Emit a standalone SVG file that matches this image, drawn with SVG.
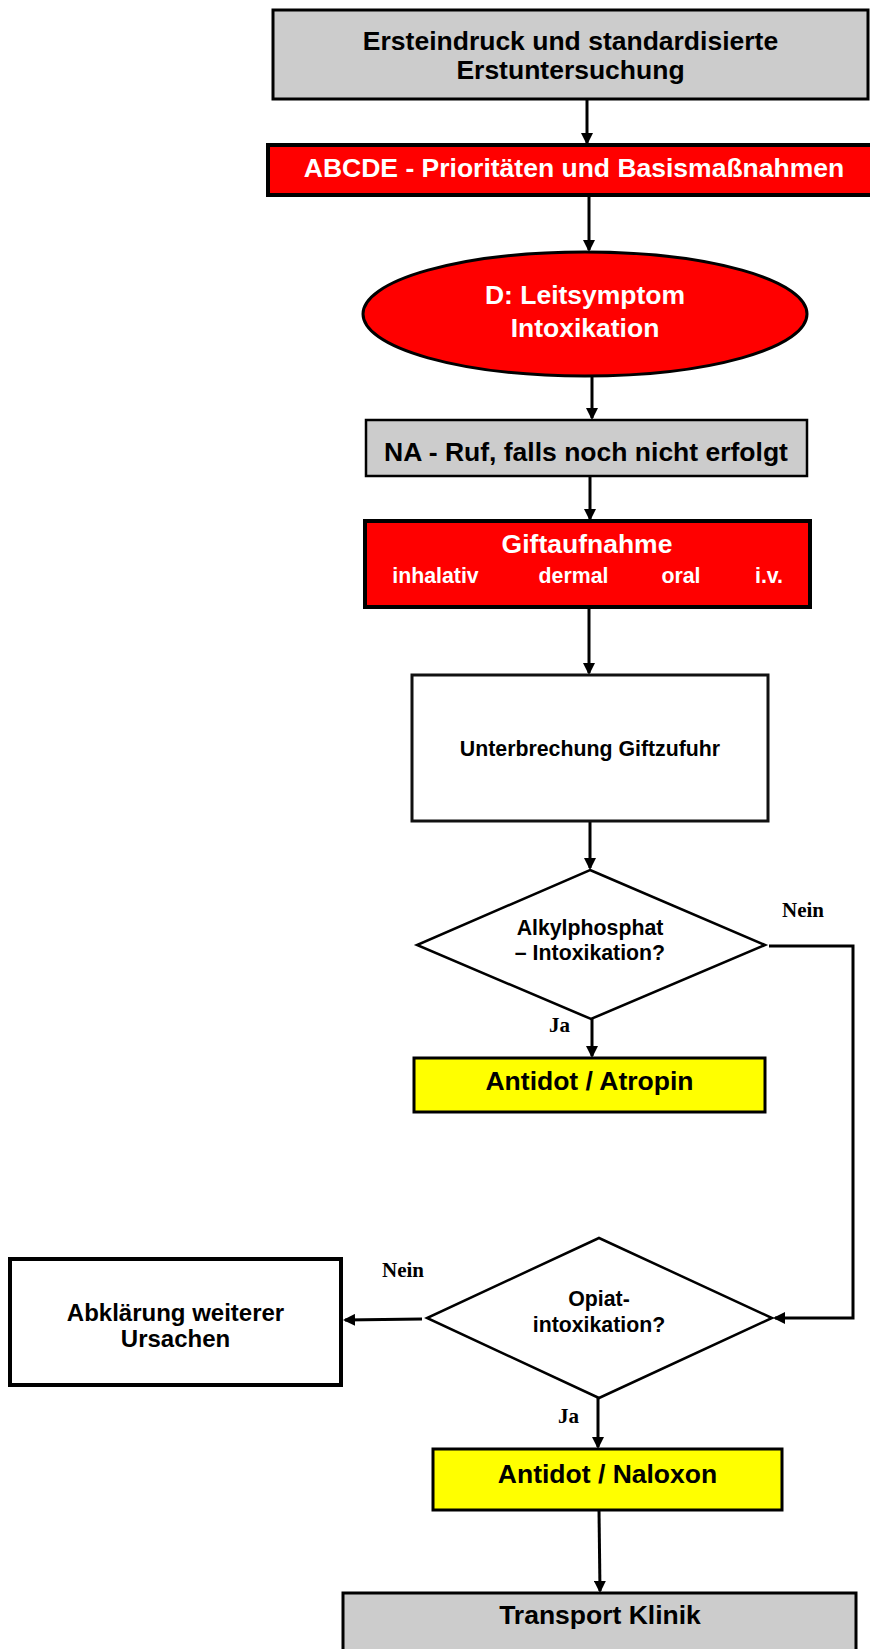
<svg xmlns="http://www.w3.org/2000/svg" width="870" height="1649" viewBox="0 0 870 1649">
  <style>
    .t { font-family: "Liberation Sans", Arial, sans-serif; font-weight: bold; text-anchor: middle; }
    .big { font-size: 26.5px; }
    .mid { font-size: 24px; }
    .small { font-size: 21.3px; }
    .dark { fill: #000000; }
    .light { fill: #ffffff; }
    .lbl { font-family: "Liberation Serif", "Times New Roman", serif; font-weight: bold; font-size: 21px; fill: #000000; }
    .gray { fill: #cccccc; stroke: #000000; stroke-width: 3; }
    .red { fill: #ff0000; stroke: #000000; stroke-width: 4; }
    .yellow { fill: #ffff00; stroke: #000000; stroke-width: 3; }
    .white { fill: #ffffff; stroke: #000000; stroke-width: 3; }
    .wire { fill: none; stroke: #000000; stroke-width: 3; }
  </style>
  <defs>
    <marker id="arrow" markerUnits="userSpaceOnUse" markerWidth="12" markerHeight="12" refX="10" refY="6" orient="auto">
      <path d="M0,0 L12,6 L0,12 z" fill="#000000"/>
    </marker>
  </defs>

  <rect x="0" y="0" width="870" height="1649" fill="#ffffff"/>

  <!-- connectors -->
  <g id="connectors">
    <line class="wire" x1="587" y1="100" x2="587" y2="143" marker-end="url(#arrow)"/>
    <line class="wire" x1="589" y1="195" x2="589" y2="250" marker-end="url(#arrow)"/>
    <line class="wire" x1="592" y1="376" x2="592" y2="418" marker-end="url(#arrow)"/>
    <line class="wire" x1="590" y1="476" x2="590" y2="519" marker-end="url(#arrow)"/>
    <line class="wire" x1="589" y1="607" x2="589" y2="673" marker-end="url(#arrow)"/>
    <line class="wire" x1="590" y1="821" x2="590" y2="868" marker-end="url(#arrow)"/>
    <line class="wire" x1="592" y1="1019" x2="592" y2="1056" marker-end="url(#arrow)"/>
    <polyline class="wire" points="769,946 853,946 853,1318 775,1318" marker-end="url(#arrow)"/>
    <line class="wire" x1="422" y1="1319" x2="345" y2="1320" marker-end="url(#arrow)"/>
    <line class="wire" x1="598" y1="1398" x2="598" y2="1447" marker-end="url(#arrow)"/>
    <line class="wire" x1="599" y1="1510" x2="600" y2="1591" marker-end="url(#arrow)"/>
    <text class="lbl" x="782" y="917">Nein</text>
    <text class="lbl" x="549" y="1032">Ja</text>
    <text class="lbl" x="382" y="1277">Nein</text>
    <text class="lbl" x="558" y="1423">Ja</text>
  </g>

  <!-- first impression -->
  <g id="erstuntersuchung">
    <rect class="gray" x="273" y="10" width="595" height="89"/>
    <text class="t big dark" x="570.5" y="50">Ersteindruck und standardisierte</text>
    <text class="t big dark" x="570.5" y="79">Erstuntersuchung</text>
  </g>

  <!-- ABCDE -->
  <g id="abcde">
    <rect class="red" x="268" y="145" width="620" height="50"/>
    <text class="t big light" x="574" y="177">ABCDE - Prioritäten und Basismaßnahmen</text>
  </g>

  <!-- leading symptom -->
  <g id="leitsymptom">
    <ellipse class="red" style="stroke-width:3" cx="585" cy="314" rx="222" ry="62"/>
    <text class="t big light" x="585" y="304">D: Leitsymptom</text>
    <text class="t big light" x="585" y="337">Intoxikation</text>
  </g>

  <!-- emergency physician call -->
  <g id="na-ruf">
    <rect class="gray" style="stroke-width:2.5" x="366" y="420" width="441" height="56"/>
    <text class="t big dark" x="586" y="461">NA - Ruf, falls noch nicht erfolgt</text>
  </g>

  <!-- route of intake -->
  <g id="giftaufnahme">
    <rect class="red" x="365" y="521" width="445" height="86"/>
    <text class="t big light" x="587" y="553">Giftaufnahme</text>
    <text class="t small light" x="435.5" y="583">inhalativ</text>
    <text class="t small light" x="573.5" y="583">dermal</text>
    <text class="t small light" x="681" y="583">oral</text>
    <text class="t small light" x="769" y="583">i.v.</text>
  </g>

  <!-- stop exposure -->
  <g id="unterbrechung">
    <rect class="white" x="412" y="675" width="356" height="146" style="stroke:#111111"/>
    <text class="t small dark" x="590" y="756">Unterbrechung Giftzufuhr</text>
  </g>

  <!-- decision: organophosphate -->
  <g id="alkylphosphat">
    <polygon class="white" style="stroke-width:2.5" points="590,870 765,945 591,1019 417,945"/>
    <text class="t small dark" x="590" y="935">Alkylphosphat</text>
    <text class="t small dark" x="590" y="960">– Intoxikation?</text>
  </g>

  <!-- atropine -->
  <g id="atropin">
    <rect class="yellow" x="414" y="1058" width="351" height="54"/>
    <text class="t big dark" x="589.5" y="1090">Antidot / Atropin</text>
  </g>

  <!-- decision: opiate -->
  <g id="opiat">
    <polygon class="white" style="stroke-width:2.5" points="599,1238 772,1318 599,1398 427,1318"/>
    <text class="t small dark" x="599" y="1306">Opiat-</text>
    <text class="t small dark" x="599" y="1332">intoxikation?</text>
  </g>

  <!-- other causes -->
  <g id="abklaerung">
    <rect class="white" style="stroke-width:4" x="10" y="1259" width="331" height="126"/>
    <text class="t mid dark" x="175.5" y="1321">Abklärung weiterer</text>
    <text class="t mid dark" x="175.5" y="1347">Ursachen</text>
  </g>

  <!-- naloxone -->
  <g id="naloxon">
    <rect class="yellow" x="433" y="1449" width="349" height="61"/>
    <text class="t big dark" x="607.5" y="1483">Antidot / Naloxon</text>
  </g>

  <!-- transport -->
  <g id="transport">
    <rect class="gray" x="343" y="1593" width="513" height="80"/>
    <text class="t big dark" x="600" y="1624">Transport Klinik</text>
  </g>
</svg>
